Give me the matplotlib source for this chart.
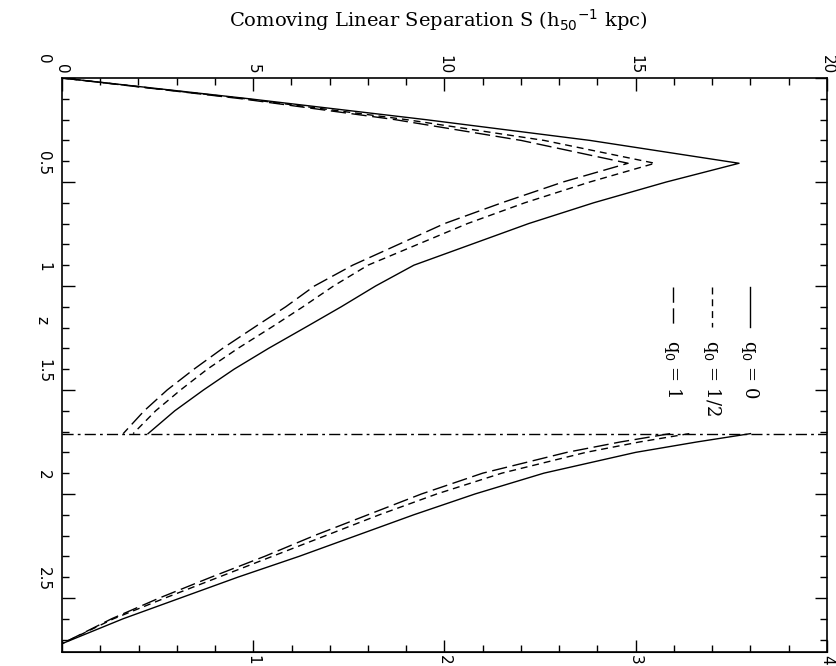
import numpy as np
import matplotlib.pyplot as plt
import matplotlib.transforms as mtransforms
from matplotlib.ticker import MultipleLocator, FuncFormatter

# redshift grids
z_cut = 1.71
z_rise = [0.0, 0.1, 0.2, 0.3, 0.41]
z_fall = [0.41, 0.5, 0.6, 0.7, 0.8, 0.9, 1.0, 1.1, 1.19, 1.3, 1.4, 1.5, 1.6, 1.71]
z_far = [1.71, 1.75, 1.8, 1.9, 2.0, 2.1, 2.2, 2.3, 2.4, 2.5, 2.6, 2.72]

# S (h50^-1 kpc) for each q0
s_rise_q0 = [0.0, 4.9, 9.5, 13.8, 17.7]
s_rise_qh = [0.0, 4.8, 9.0, 12.6, 15.5]
s_rise_q1 = [0.0, 4.7, 8.7, 12.0, 14.8]

s_fall_q0 = [17.7, 15.8, 13.9, 12.2, 10.7, 9.2, 8.2, 7.3, 6.45, 5.4, 4.5, 3.7, 2.95, 2.25]
s_fall_qh = [15.5, 13.8, 12.1, 10.6, 9.3, 8.0, 7.1, 6.3, 5.55, 4.6, 3.8, 3.1, 2.45, 1.86]
s_fall_q1 = [14.8, 13.1, 11.5, 10.0, 8.8, 7.6, 6.6, 5.85, 5.1, 4.2, 3.45, 2.75, 2.15, 1.6]

s_far_q0 = [18.0, 16.6, 15.0, 12.6, 10.8, 9.2, 7.7, 6.2, 4.6, 3.1, 1.6, 0.0]
s_far_qh = [16.4, 15.1, 13.7, 11.5, 9.8, 8.3, 6.9, 5.5, 4.1, 2.7, 1.35, 0.0]
s_far_q1 = [15.9, 14.6, 13.2, 11.0, 9.4, 8.0, 6.6, 5.3, 3.9, 2.55, 1.3, 0.0]

labels = ["q$_0$ = 0", "q$_0$ = 1/2", "q$_0$ = 1"]
styles = ["-", (0, (5, 3.5)), (0, (11, 4))]

fig = plt.figure(figsize=(8.37, 6.66), dpi=100)
ax = fig.add_axes([62 / 837, 1 - 652 / 666, (827 - 62) / 837, (652 - 78) / 666])

series = [
    (s_rise_q0, s_fall_q0, s_far_q0),
    (s_rise_qh, s_fall_qh, s_far_qh),
    (s_rise_q1, s_fall_q1, s_far_q1),
]
for (rise, fall, far), ls in zip(series, styles):
    ax.plot(rise + fall[1:], z_rise + z_fall[1:], color="black", lw=1.0, ls=ls)
    ax.plot(far, z_far, color="black", lw=1.0, ls=ls)

ax.axhline(z_cut, color="black", lw=1.0, ls=(0, (8, 3, 2, 3)))

ax.set_xlim(0, 20)
ax.set_ylim(2.76, 0)

# top axis: S
ax.xaxis.set_major_locator(MultipleLocator(5))
ax.xaxis.set_minor_locator(MultipleLocator(1))
ax.tick_params(axis="x", which="both", bottom=False, labelbottom=False, top=True, labeltop=True, direction="in")
ax.tick_params(axis="x", which="major", length=9, width=1, labelsize=11, labelrotation=-90, pad=3)
ax.tick_params(axis="x", which="minor", length=5, width=1)

# left / right axis: z
ax.set_yticks([0, 0.5, 1, 1.5, 2, 2.5])
ax.yaxis.set_minor_locator(MultipleLocator(0.1))
ax.yaxis.set_major_formatter(FuncFormatter(lambda v, p: f"{v:g}"))
ax.tick_params(axis="y", which="both", left=True, right=True, direction="in")
ax.tick_params(axis="y", which="major", length=9, width=1, labelsize=11, labelrotation=-90, pad=8)
ax.tick_params(axis="y", which="minor", length=5, width=1)
# the z labels in the original sit a little above their ticks
shift = mtransforms.ScaledTranslation(0, 0.19, fig.dpi_scale_trans)
for lab in ax.get_yticklabels():
    lab.set_va("center")
    lab.set_transform(lab.get_transform() + shift)

# bottom axis: second scale 0-4
sec = ax.secondary_xaxis("bottom", functions=(lambda s: s / 5, lambda a: a * 5))
sec.xaxis.set_major_locator(MultipleLocator(1))
sec.xaxis.set_minor_locator(MultipleLocator(0.2))
sec.xaxis.set_major_formatter(FuncFormatter(lambda v, p: "" if v == 0 else f"{v:g}"))
sec.tick_params(axis="x", which="both", direction="in")
sec.tick_params(axis="x", which="major", length=9, width=1, labelsize=11, labelrotation=-90, pad=2)
sec.tick_params(axis="x", which="minor", length=5, width=1)

for sp in ax.spines.values():
    sp.set_linewidth(1.2)

fig.text(438 / 837, 1 - 20 / 666, r"Comoving Linear Separation S (h$_{50}$$^{-1}$ kpc)",
         ha="center", va="center", fontsize=14, family="DejaVu Serif")
fig.text(42 / 837, 1 - 320 / 666, "z", rotation=-90, ha="center", va="center", fontsize=11)

# legend drawn inside the frame, rotated like the rest of the figure
leg_x = [0.899, 0.850, 0.799]
for xl, ls, lab in zip(leg_x, styles, labels):
    ax.plot([xl, xl], [0.636, 0.566], transform=ax.transAxes, color="black", lw=1.0, ls=ls)
    ax.text(xl, 0.544, lab, transform=ax.transAxes, rotation=-90, ha="center", va="top",
            fontsize=13, family="DejaVu Serif")

fig.savefig("out.png", dpi=100)
